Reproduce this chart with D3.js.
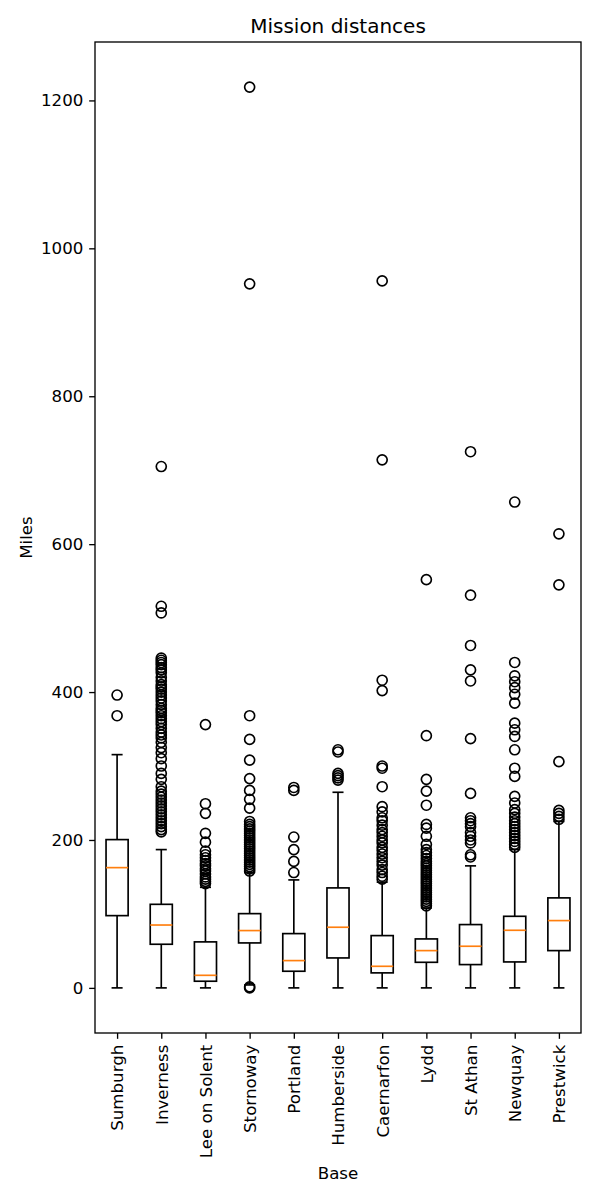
<!DOCTYPE html>
<html>
<head>
<meta charset="utf-8">
<script src="https://cdn.jsdelivr.net/npm/d3@7"></script>
<style>
  html, body { margin: 0; padding: 0; background: #ffffff; }
  svg { display: block; }
  text { font-family: "DejaVu Sans", sans-serif; fill: #000; }
</style>
</head>
<body>
<svg id="chart" width="600" height="1200"></svg>
<script>
// ---- data ----
const bases = ["Sumburgh", "Inverness", "Lee on Solent", "Stornoway", "Portland", "Humberside",
               "Caernarfon", "Lydd", "St Athan", "Newquay", "Prestwick"];
const whiskerLow  = [0, 0, 0, 4, 0, 0, 0, 0, 0, 0, 0];
const q1          = [97.7, 59, 9, 60.8, 22.5, 40.5, 20.3, 34.6, 31.5, 35.1, 50.4];
const medians     = [162.6, 85, 17, 77.5, 36.9, 82, 29.2, 50.4, 56.3, 77.9, 91];
const q3          = [200.5, 113, 62.2, 100.4, 73.4, 135.2, 70.7, 66.2, 85.6, 96.8, 121.7];
const whiskerHigh = [315.4, 187, 136, 156, 146, 264.5, 143, 108, 165, 187, 225];
const outliers = [
  [396, 368],
  [705, 516, 507, 446, 443, 440, 437, 433, 430, 426, 420, 415, 410, 407, 404, 400, 396, 392, 388,
   383, 378, 375, 372, 368, 364, 360, 356, 351, 346, 342, 338, 332, 325, 318, 310, 300, 290, 282,
   272, 266, 262, 258, 254, 250, 246, 242, 238, 234, 230, 226, 222, 218, 214, 211],
  [356, 249, 236, 209, 197, 185, 180, 176, 172, 168, 165, 161, 158, 154, 150, 147, 144, 141],
  [1218, 952, 368, 336, 308, 283, 267, 255, 243, 225, 221, 218, 215, 212, 209, 206, 203, 200, 197,
   194, 191, 188, 185, 182, 179, 176, 173, 170, 167, 164, 161, 158, 1.5, 0],
  [271, 267, 204, 187, 171, 156],
  [322, 319, 290, 287, 284, 281],
  [956, 714, 416, 402, 300, 297, 272, 245, 238, 230, 226, 220, 214, 210, 205, 200, 196, 190, 186,
   181, 176, 171, 166, 160, 156, 151, 147],
  [552, 341, 282, 266, 247, 221, 216, 205, 194, 187, 183, 179, 175, 171, 168, 165, 162, 159, 156,
   153, 150, 147, 144, 141, 138, 135, 132, 129, 126, 123, 120, 117, 114, 111],
  [725, 531, 463, 430, 415, 337, 263, 230, 226, 222, 218, 210, 205, 200, 196, 180, 177],
  [657, 440, 422, 414, 406, 397, 385, 358, 349, 340, 322, 297, 286, 259, 250, 241, 236, 231, 226,
   222, 218, 214, 210, 206, 202, 198, 194, 190],
  [614, 545, 306, 240, 236, 232, 228]
];
const yTicks = [0, 200, 400, 600, 800, 1000, 1200];
const titleText = "Mission distances";
const xLabel = "Base";
const yLabel = "Miles";

// ---- layout ----
const pt = 120 / 72;
const mLeft = 95, mRight = 581, mTop = 42, mBottom = 1033;
const svg = d3.select("#chart");

const x = d3.scaleLinear().domain([0.5, bases.length + 0.5]).range([mLeft, mRight]);
const y = d3.scaleLinear().domain([-61, 1279]).range([mBottom, mTop]);

const boxW = x(0.5) - x(0);
const capW = x(0.25) - x(0);

const rows = bases.map((b, i) => ({
  name: b, pos: i + 1, lo: whiskerLow[i], q1: q1[i], med: medians[i], q3: q3[i],
  hi: whiskerHigh[i], out: outliers[i]
}));

const g = svg.append("g");

// whiskers
g.selectAll("line.wl").data(rows).join("line").attr("class", "wl")
  .attr("x1", d => x(d.pos)).attr("x2", d => x(d.pos))
  .attr("y1", d => y(d.q1)).attr("y2", d => y(d.lo))
  .attr("stroke", "#000").attr("stroke-width", pt);
g.selectAll("line.wh").data(rows).join("line").attr("class", "wh")
  .attr("x1", d => x(d.pos)).attr("x2", d => x(d.pos))
  .attr("y1", d => y(d.q3)).attr("y2", d => y(d.hi))
  .attr("stroke", "#000").attr("stroke-width", pt);
// caps
g.selectAll("line.cl").data(rows).join("line").attr("class", "cl")
  .attr("x1", d => x(d.pos) - capW / 2).attr("x2", d => x(d.pos) + capW / 2)
  .attr("y1", d => y(d.lo)).attr("y2", d => y(d.lo))
  .attr("stroke", "#000").attr("stroke-width", pt);
g.selectAll("line.ch").data(rows).join("line").attr("class", "ch")
  .attr("x1", d => x(d.pos) - capW / 2).attr("x2", d => x(d.pos) + capW / 2)
  .attr("y1", d => y(d.hi)).attr("y2", d => y(d.hi))
  .attr("stroke", "#000").attr("stroke-width", pt);
// boxes
g.selectAll("rect.box").data(rows).join("rect").attr("class", "box")
  .attr("x", d => x(d.pos) - boxW / 2).attr("width", boxW)
  .attr("y", d => y(d.q3)).attr("height", d => y(d.q1) - y(d.q3))
  .attr("fill", "none").attr("stroke", "#000").attr("stroke-width", pt);
// medians
g.selectAll("line.med").data(rows).join("line").attr("class", "med")
  .attr("x1", d => x(d.pos) - boxW / 2).attr("x2", d => x(d.pos) + boxW / 2)
  .attr("y1", d => y(d.med)).attr("y2", d => y(d.med))
  .attr("stroke", "#ff7f0e").attr("stroke-width", pt);
// fliers
const fl = rows.flatMap(d => d.out.map(v => ({ pos: d.pos, v })));
g.selectAll("circle.fl").data(fl).join("circle").attr("class", "fl")
  .attr("cx", d => x(d.pos)).attr("cy", d => y(d.v)).attr("r", 3 * pt)
  .attr("fill", "none").attr("stroke", "#000").attr("stroke-width", pt);

// frame
svg.append("rect").attr("x", mLeft).attr("y", mTop)
  .attr("width", mRight - mLeft).attr("height", mBottom - mTop)
  .attr("fill", "none").attr("stroke", "#000").attr("stroke-width", 0.8 * pt);

// y axis
const yAxis = svg.append("g").attr("transform", `translate(${mLeft},0)`)
  .call(d3.axisLeft(y).tickValues(yTicks).tickFormat(d3.format("d"))
        .tickSize(3.5 * pt).tickPadding(3.5 * pt));
yAxis.select(".domain").remove();
yAxis.selectAll(".tick line").attr("stroke", "#000").attr("stroke-width", 0.8 * pt);
yAxis.selectAll(".tick text").attr("font-family", "DejaVu Sans").attr("font-size", 10 * pt);

// x axis
const xAxis = svg.append("g").attr("transform", `translate(0,${mBottom})`)
  .call(d3.axisBottom(x).tickValues(rows.map(d => d.pos)).tickFormat((d, i) => bases[i])
        .tickSize(3.5 * pt).tickPadding(3.5 * pt));
xAxis.select(".domain").remove();
xAxis.selectAll(".tick line").attr("stroke", "#000").attr("stroke-width", 0.8 * pt);
xAxis.selectAll(".tick text")
  .attr("font-family", "DejaVu Sans").attr("font-size", 10 * pt)
  .attr("text-anchor", "end")
  .attr("transform", `translate(0,${7 * pt}) rotate(-90)`)
  .attr("x", 0).attr("y", 0).attr("dy", "0.35em");

// title & labels
svg.append("text").attr("x", (mLeft + mRight) / 2).attr("y", mTop - 6 * pt + 0.5)
  .attr("text-anchor", "middle").attr("font-size", 12 * pt).text(titleText);
svg.append("text").attr("x", (mLeft + mRight) / 2).attr("y", 1179)
  .attr("text-anchor", "middle").attr("font-size", 10 * pt).text(xLabel);
svg.append("text").attr("transform", `translate(32,${(mTop + mBottom) / 2}) rotate(-90)`)
  .attr("text-anchor", "middle").attr("font-size", 10 * pt).text(yLabel);
</script>
</body>
</html>
